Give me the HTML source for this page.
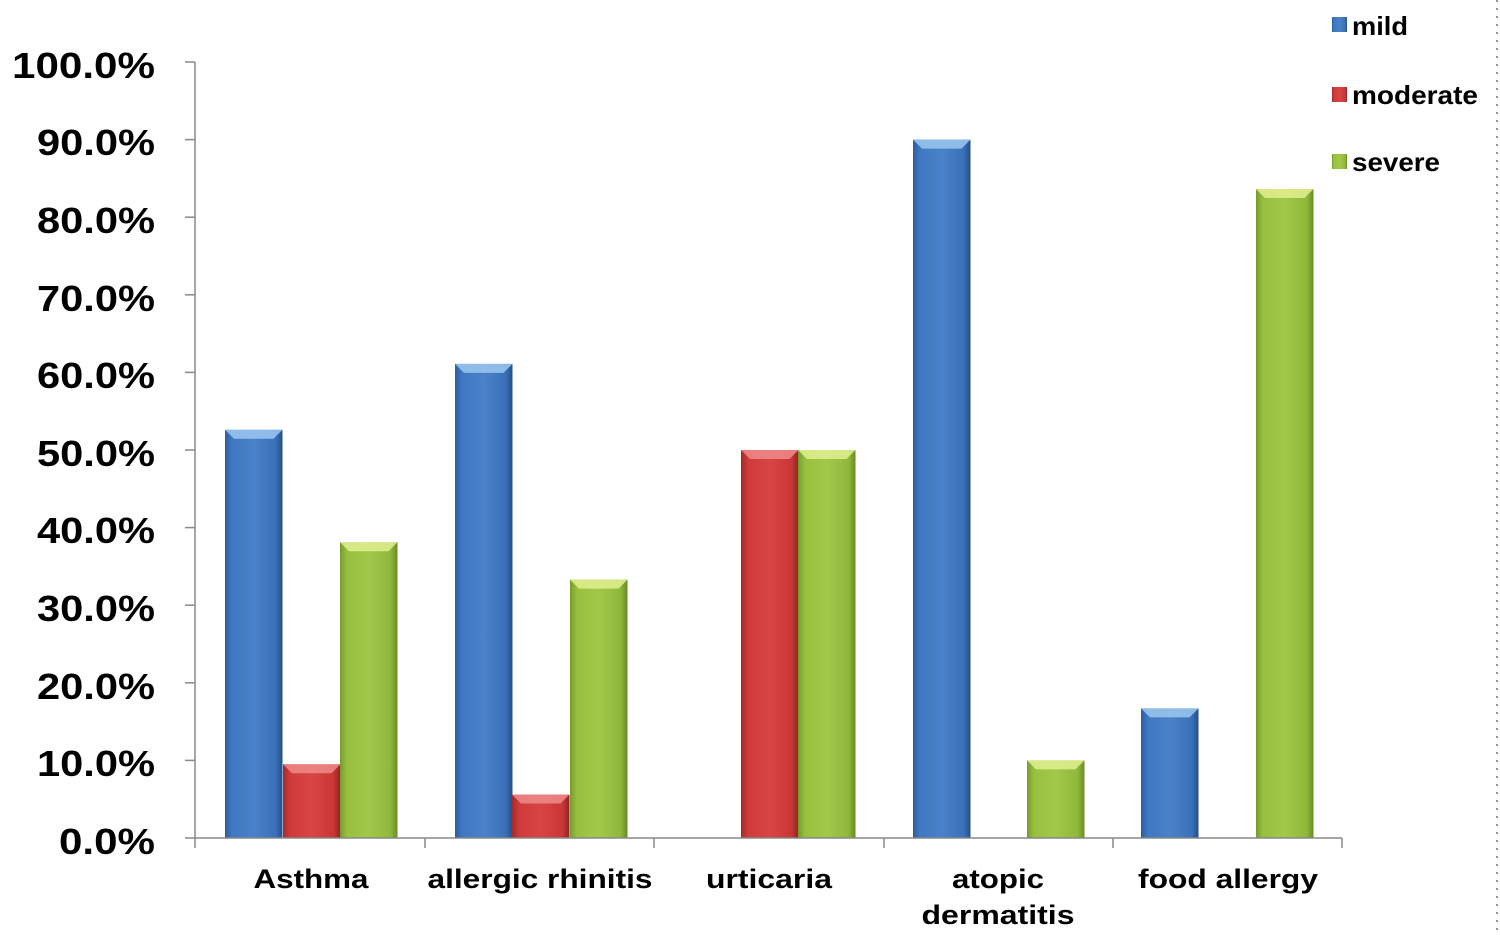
<!DOCTYPE html>
<html><head><meta charset="utf-8"><style>
html,body{margin:0;padding:0;background:#fff;width:1500px;height:935px;overflow:hidden}
svg{display:block}
text{font-family:"Liberation Sans",Arial,sans-serif;font-weight:bold;fill:#000}
</style></head><body>
<svg width="1500" height="935" viewBox="0 0 1500 935" xmlns="http://www.w3.org/2000/svg">
<defs>
<linearGradient id="gb" x1="0" x2="1"><stop offset="0" stop-color="#2d5d9e"/><stop offset="0.12" stop-color="#3f78c2"/><stop offset="0.5" stop-color="#4a82c8"/><stop offset="0.88" stop-color="#3a70b8"/><stop offset="1" stop-color="#244f88"/></linearGradient>
<linearGradient id="gr" x1="0" x2="1"><stop offset="0" stop-color="#a02a2a"/><stop offset="0.12" stop-color="#cf3a3a"/><stop offset="0.5" stop-color="#d84545"/><stop offset="0.88" stop-color="#c93636"/><stop offset="1" stop-color="#8e2222"/></linearGradient>
<linearGradient id="gg" x1="0" x2="1"><stop offset="0" stop-color="#789a2e"/><stop offset="0.12" stop-color="#98c03e"/><stop offset="0.5" stop-color="#a2c84a"/><stop offset="0.88" stop-color="#8fb83a"/><stop offset="1" stop-color="#6a8a26"/></linearGradient>
</defs>
<g>
<rect x="225" y="429.8" width="57.5" height="408.2" fill="url(#gb)"/><polygon points="225,429.8 282.5,429.8 273.5,438.8 234,438.8" fill="#9cc8f0" opacity="0.85"/>
<rect x="283" y="764.3" width="57.5" height="73.7" fill="url(#gr)"/><polygon points="283,764.3 340.5,764.3 331.5,773.3 292,773.3" fill="#f08a8a" opacity="0.85"/>
<rect x="340" y="542.3" width="57.5" height="295.7" fill="url(#gg)"/><polygon points="340,542.3 397.5,542.3 388.5,551.3 349,551.3" fill="#e0f090" opacity="0.85"/>
<rect x="455" y="363.9" width="57.5" height="474.1" fill="url(#gb)"/><polygon points="455,363.9 512.5,363.9 503.5,372.9 464,372.9" fill="#9cc8f0" opacity="0.85"/>
<rect x="512" y="794.5" width="57.5" height="43.5" fill="url(#gr)"/><polygon points="512,794.5 569.5,794.5 560.5,803.5 521,803.5" fill="#f08a8a" opacity="0.85"/>
<rect x="570" y="579.6" width="57.5" height="258.4" fill="url(#gg)"/><polygon points="570,579.6 627.5,579.6 618.5,588.6 579,588.6" fill="#e0f090" opacity="0.85"/>
<rect x="741" y="450" width="57.5" height="388" fill="url(#gr)"/><polygon points="741,450 798.5,450 789.5,459 750,459" fill="#f08a8a" opacity="0.85"/>
<rect x="798" y="450" width="57.5" height="388" fill="url(#gg)"/><polygon points="798,450 855.5,450 846.5,459 807,459" fill="#e0f090" opacity="0.85"/>
<rect x="913" y="139.6" width="57.5" height="698.4" fill="url(#gb)"/><polygon points="913,139.6 970.5,139.6 961.5,148.6 922,148.6" fill="#9cc8f0" opacity="0.85"/>
<rect x="1027" y="760.4" width="57.5" height="77.6" fill="url(#gg)"/><polygon points="1027,760.4 1084.5,760.4 1075.5,769.4 1036,769.4" fill="#e0f090" opacity="0.85"/>
<rect x="1141" y="708.4" width="57.5" height="129.6" fill="url(#gb)"/><polygon points="1141,708.4 1198.5,708.4 1189.5,717.4 1150,717.4" fill="#9cc8f0" opacity="0.85"/>
<rect x="1256" y="189" width="57.5" height="649" fill="url(#gg)"/><polygon points="1256,189 1313.5,189 1304.5,198 1265,198" fill="#e0f090" opacity="0.85"/>
</g>
<line x1="195" y1="62" x2="195" y2="838" stroke="#888" stroke-width="1.5"/>
<line x1="195" y1="838" x2="1342" y2="838" stroke="#888" stroke-width="1.5"/>
<g stroke="#888" stroke-width="1.5">
<line x1="185" y1="62" x2="195" y2="62"/><line x1="185" y1="139.6" x2="195" y2="139.6"/><line x1="185" y1="217.2" x2="195" y2="217.2"/><line x1="185" y1="294.8" x2="195" y2="294.8"/><line x1="185" y1="372.4" x2="195" y2="372.4"/><line x1="185" y1="450" x2="195" y2="450"/><line x1="185" y1="527.6" x2="195" y2="527.6"/><line x1="185" y1="605.2" x2="195" y2="605.2"/><line x1="185" y1="682.8" x2="195" y2="682.8"/><line x1="185" y1="760.4" x2="195" y2="760.4"/><line x1="185" y1="838" x2="195" y2="838"/>
<line x1="195" y1="838" x2="195" y2="848"/><line x1="425" y1="838" x2="425" y2="848"/><line x1="654" y1="838" x2="654" y2="848"/><line x1="884" y1="838" x2="884" y2="848"/><line x1="1113" y1="838" x2="1113" y2="848"/><line x1="1342" y1="838" x2="1342" y2="848"/>
</g>
<g font-size="36" text-anchor="end">
<text x="155" y="78" textLength="143" lengthAdjust="spacingAndGlyphs">100.0%</text>
<text x="155" y="155" textLength="118" lengthAdjust="spacingAndGlyphs">90.0%</text>
<text x="155" y="233" textLength="118" lengthAdjust="spacingAndGlyphs">80.0%</text>
<text x="155" y="311" textLength="118" lengthAdjust="spacingAndGlyphs">70.0%</text>
<text x="155" y="388" textLength="118" lengthAdjust="spacingAndGlyphs">60.0%</text>
<text x="155" y="466" textLength="118" lengthAdjust="spacingAndGlyphs">50.0%</text>
<text x="155" y="543" textLength="118" lengthAdjust="spacingAndGlyphs">40.0%</text>
<text x="155" y="621" textLength="118" lengthAdjust="spacingAndGlyphs">30.0%</text>
<text x="155" y="699" textLength="118" lengthAdjust="spacingAndGlyphs">20.0%</text>
<text x="155" y="776" textLength="118" lengthAdjust="spacingAndGlyphs">10.0%</text>
<text x="155" y="854" textLength="96" lengthAdjust="spacingAndGlyphs">0.0%</text>
</g>
<g font-size="27" text-anchor="middle">
<text x="311" y="888" textLength="115" lengthAdjust="spacingAndGlyphs">Asthma</text>
<text x="540" y="888" textLength="225" lengthAdjust="spacingAndGlyphs">allergic rhinitis</text>
<text x="769" y="888" textLength="126" lengthAdjust="spacingAndGlyphs">urticaria</text>
<text x="998" y="888" textLength="92" lengthAdjust="spacingAndGlyphs">atopic</text>
<text x="998" y="924" textLength="153" lengthAdjust="spacingAndGlyphs">dermatitis</text>
<text x="1228" y="888" textLength="180" lengthAdjust="spacingAndGlyphs">food allergy</text>
</g>
<g font-size="26">
<rect x="1332" y="17" width="15" height="15" fill="url(#gb)"/><text x="1352" y="35" textLength="56" lengthAdjust="spacingAndGlyphs">mild</text>
<rect x="1332" y="87" width="15" height="15" fill="url(#gr)"/><text x="1352" y="104" textLength="126" lengthAdjust="spacingAndGlyphs">moderate</text>
<rect x="1332" y="154" width="15" height="15" fill="url(#gg)"/><text x="1352" y="171" textLength="88" lengthAdjust="spacingAndGlyphs">severe</text>
</g>
<line x1="1497" y1="0" x2="1497" y2="935" stroke="#8a9a9a" stroke-width="2" stroke-dasharray="2,6"/>
</svg>
</body></html>
